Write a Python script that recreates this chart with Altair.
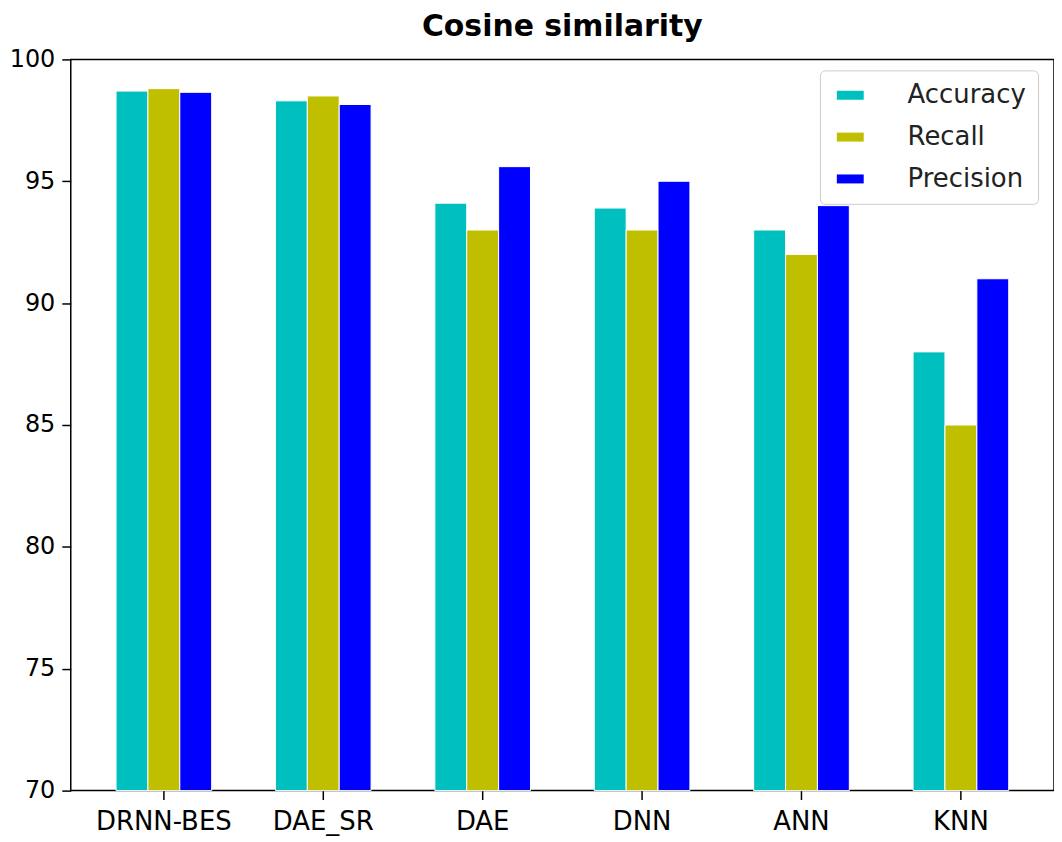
import altair as alt
import pandas as pd

models = ["DRNN-BES", "DAE_SR", "DAE", "DNN", "ANN", "KNN"]
metrics = ["Accuracy", "Recall", "Precision"]
accuracy = [98.7, 98.3, 94.1, 93.9, 93.0, 88.0]
recall = [98.8, 98.5, 93.0, 93.0, 92.0, 85.0]
precision = [98.65, 98.15, 95.6, 95.0, 94.0, 91.0]
colors = ["#00bfbf", "#bfbf00", "#0000ff"]
y_ticks = [70, 75, 80, 85, 90, 95, 100]

rows = []
for m, a, r, p in zip(models, accuracy, recall, precision):
    for met, v in zip(metrics, [a, r, p]):
        rows.append({"Model": m, "Metric": met, "Value": v})
df = pd.DataFrame(rows)

FONT = "DejaVu Sans"

chart = alt.Chart(df).mark_bar(stroke="white", strokeWidth=1).encode(
    x=alt.X(
        "Model:N",
        sort=models,
        scale=alt.Scale(paddingInner=0, paddingOuter=0.084),
        axis=alt.Axis(title=None, labelAngle=0, labelPadding=9, tickSize=9,
                      domain=False),
    ),
    xOffset=alt.XOffset("Metric:N", sort=metrics,
                        scale=alt.Scale(paddingInner=0, paddingOuter=1)),
    y=alt.Y(
        "Value:Q",
        scale=alt.Scale(domain=[70, 100], zero=False, nice=False),
        axis=alt.Axis(title=None, values=y_ticks, labelPadding=7, tickSize=9,
                      labelFontSize=24, domain=False),
    ),
    y2=alt.datum(70),
    color=alt.Color(
        "Metric:N",
        sort=metrics,
        scale=alt.Scale(domain=metrics, range=colors),
        legend=alt.Legend(
            title=None,
            orient="none",
            legendX=752,
            legendY=11,
            symbolType="M-0.89,-0.5L2.11,-0.5L2.11,0.5L-0.89,0.5Z",
            symbolSize=324,
            symbolStrokeWidth=0,
            symbolOpacity=1,
            labelFont=FONT,
            labelFontSize=26,
            labelColor="#222222",
            labelOffset=50,
            padding=12,
            rowPadding=16,
            strokeColor="#cccccc",
            fillColor="rgba(255,255,255,0.85)",
            cornerRadius=5,
        ),
    ),
).properties(
    width=987,
    height=734,
    title=alt.Title("Cosine similarity", font=FONT, fontSize=30, fontWeight="bold",
                    anchor="middle", frame="group", offset=5, color="black"),
    autosize="none",
    padding={"left": 63, "top": 50, "right": 0, "bottom": 50},
).configure_view(
    stroke="black", strokeWidth=1.5
).configure_axis(
    labelFont=FONT, labelFontSize=26, labelColor="black",
    tickColor="black", tickWidth=1.5, grid=False,
)

chart.save("out.html", embed_options={"renderer": "svg", "actions": False})
